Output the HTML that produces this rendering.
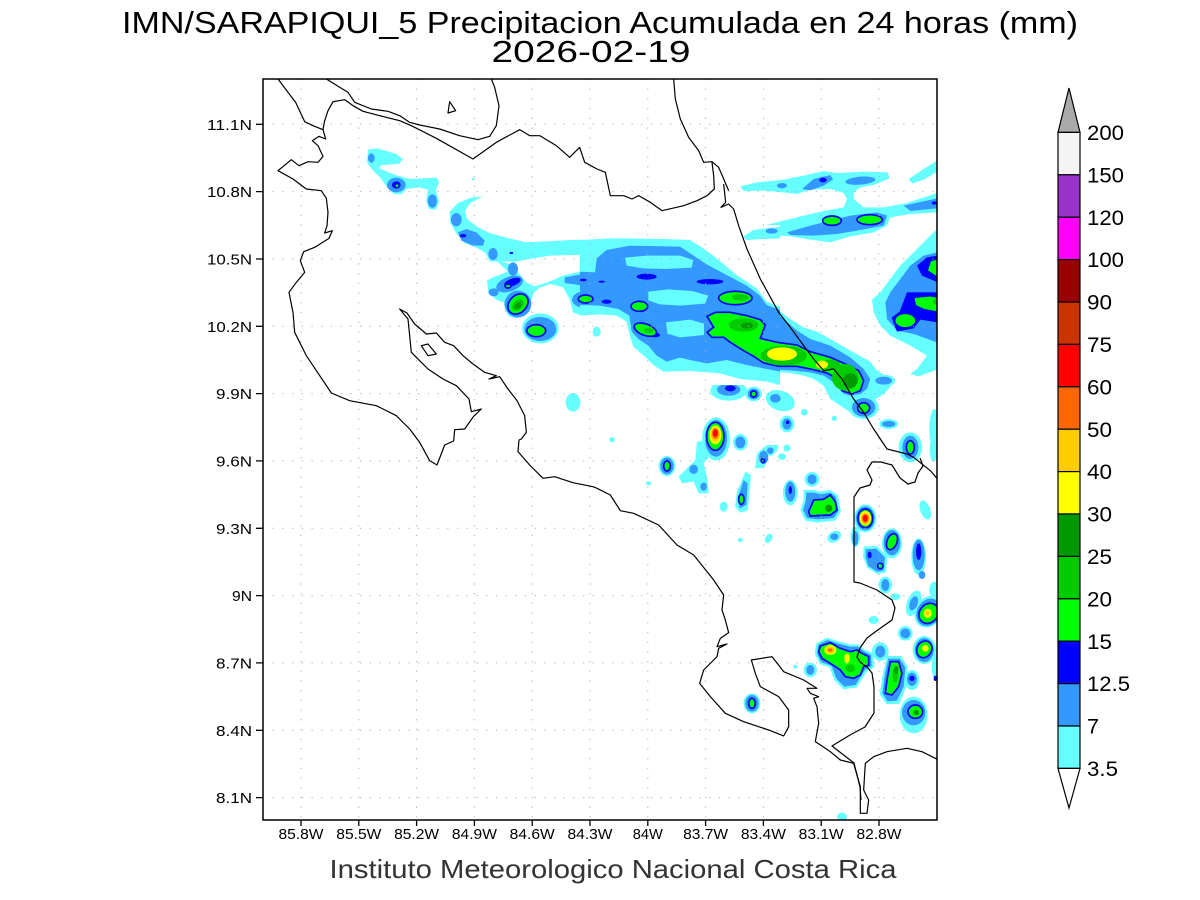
<!DOCTYPE html>
<html><head><meta charset="utf-8"><style>
html,body{margin:0;padding:0;background:#fff;}
svg{display:block;}
text{font-family:"Liberation Sans",sans-serif;}
</style></head><body>
<svg width="1200" height="900" viewBox="0 0 1200 900" xmlns="http://www.w3.org/2000/svg">
<rect width="1200" height="900" fill="#fff"/>
<defs>
<clipPath id="c"><rect x="263" y="79" width="674" height="741"/></clipPath>
<clipPath id="cA"><rect x="580" y="225" width="200" height="160"/></clipPath>
</defs>

<!-- titles -->
<text x="600" y="33" font-size="31" text-anchor="middle" textLength="956" lengthAdjust="spacingAndGlyphs">IMN/SARAPIQUI_5 Precipitacion Acumulada en 24 horas (mm)</text>
<text x="591" y="62" font-size="31" text-anchor="middle" textLength="199" lengthAdjust="spacingAndGlyphs">2026-02-19</text>
<text x="613" y="878" font-size="26" fill="#333" text-anchor="middle" textLength="567" lengthAdjust="spacingAndGlyphs">Instituto Meteorologico Nacional Costa Rica</text>

<g clip-path="url(#c)">
<g transform="translate(263,79) scale(0.33333)">
<!-- ===== CYAN ===== -->
<g fill="#66ffff">
 <path d="M315,212 L345,208 L400,225 L420,240 L408,255 L355,258 L348,268 L392,286 L440,300 L522,296 L528,312 L518,332 L528,368 L518,392 L498,390 L490,365 L495,332 L470,325 L430,330 L415,346 L393,345 L372,325 L352,296 L328,272 L312,250 Z"/>
 <path d="M660,352 L625,356 L585,372 L560,398 L562,432 L582,466 L605,492 L645,508 L668,522 L680,547 L712,548 L760,548 L800,540 L860,530 L940,528 L1020,530 L1020,485 L950,482 L850,487 L790,490 L730,476 L680,462 L645,445 L612,420 L606,396 L622,372 Z"/>
 <path d="M700,545 L745,556 L765,580 L790,610 L815,622 L860,608 L900,590 L950,578 L1030,575 L1030,710 L960,712 L930,700 L920,660 L900,625 L862,615 L828,627 L812,642 L803,670 L792,702 L762,718 L738,712 L726,692 L722,670 L700,662 L676,642 L672,604 L692,594 L735,578 Z"/>
 <ellipse cx="832" cy="748" rx="55" ry="45"/>
 <circle cx="630" cy="300" r="4"/>
 <ellipse cx="930" cy="970" rx="22" ry="28"/>
 <g transform="translate(1002,0)">
  <path d="M0,485 L60,482 L150,488 L230,492 L265,500 L262,522 L300,540 L370,538 L400,560 L445,590 L470,612 L500,660 L540,690 L580,720 L620,745 L665,760 L700,780 L760,815 L820,848 L840,875 L880,900 L880,925 L860,945 L835,962 L840,990 L820,1005 L790,1012 L760,1000 L730,980 L700,960 L680,920 L650,900 L620,890 L580,882 L520,878 L470,880 L420,888 L380,895 L350,890 L320,875 L270,870 L210,870 L180,860 L165,830 L130,800 L90,780 L40,770 L0,765 Z"/>
  <path d="M430,322 L480,310 L560,302 L620,290 L680,276 L720,282 L800,278 L872,280 L878,298 L830,318 L790,325 L770,340 L770,360 L800,385 L860,385 L930,372 L1020,342 L1020,400 L940,405 L880,415 L870,440 L830,460 L760,472 L700,490 L640,482 L580,472 L520,468 L460,472 L455,458 L500,440 L560,425 L620,410 L680,396 L740,385 L750,360 L740,342 L700,330 L640,332 L600,345 L560,340 L500,335 L440,336 Z"/>
  <path d="M935,300 L980,270 L1020,245 L1020,278 L985,300 L945,314 Z"/>
  <path d="M1020,450 L990,480 L950,520 L910,560 L880,600 L850,640 L825,662 L830,700 L850,740 L880,770 L940,800 L990,830 L960,870 L940,885 L965,892 L1020,872 Z"/>
  <ellipse cx="395" cy="935" rx="55" ry="30"/>
  <ellipse cx="470" cy="945" rx="25" ry="22"/>
  <ellipse cx="550" cy="965" rx="45" ry="30" transform="rotate(20 550 965)"/>
  <ellipse cx="570" cy="1035" rx="22" ry="25"/>
  <circle cx="622" cy="1000" r="10"/>
  <circle cx="712" cy="1018" r="8"/>
  <ellipse cx="800" cy="985" rx="45" ry="35"/>
  <ellipse cx="860" cy="905" rx="35" ry="18"/>
  <ellipse cx="875" cy="1035" rx="28" ry="15"/>
  <ellipse cx="940" cy="1105" rx="35" ry="45"/>
  <ellipse cx="1012" cy="1050" rx="15" ry="60"/>
  <ellipse cx="357" cy="1080" rx="42" ry="65"/>
  <ellipse cx="430" cy="1090" rx="22" ry="25"/>
  <circle cx="45" cy="1082" r="8"/>
  <ellipse cx="210" cy="1140" rx="10" ry="6"/>
  <circle cx="520" cy="1115" r="15"/>
  <circle cx="570" cy="1108" r="10"/>
 </g>
 <g transform="translate(1002,1083)">
  <ellipse cx="210" cy="78" rx="25" ry="30"/>
  <path d="M300,5 L340,0 L345,40 L320,70 L330,110 L335,160 L305,160 L290,125 L255,130 L245,110 L270,85 L295,60 Z"/>
  <ellipse cx="155" cy="130" rx="8" ry="6"/>
  <path d="M445,95 L462,105 L458,150 L452,212 L430,218 L414,200 L420,155 L435,120 Z"/>
  <path d="M480,40 L510,15 L545,15 L540,35 L512,48 L502,82 L474,86 Z"/>
  <ellipse cx="380" cy="200" rx="12" ry="15"/>
  <ellipse cx="555" cy="50" rx="12" ry="10"/>
  <ellipse cx="570" cy="22" rx="10" ry="8"/>
  <ellipse cx="580" cy="158" rx="22" ry="38"/>
  <circle cx="645" cy="118" r="22"/>
  <path d="M620,150 L650,150 L670,155 L700,150 L722,165 L732,215 L715,242 L660,248 L625,242 L610,210 L620,180 Z"/>
  <ellipse cx="805" cy="235" rx="33" ry="42"/>
  <ellipse cx="775" cy="290" rx="14" ry="30"/>
  <ellipse cx="712" cy="290" rx="22" ry="16" transform="rotate(-30 712 290)"/>
  <ellipse cx="515" cy="295" rx="10" ry="15" transform="rotate(30 515 295)"/>
  <ellipse cx="430" cy="300" rx="8" ry="6"/>
  <ellipse cx="885" cy="310" rx="30" ry="45"/>
  <path d="M800,320 L840,318 L872,350 L866,398 L840,402 L810,382 L798,350 Z"/>
  <ellipse cx="965" cy="350" rx="22" ry="55"/>
  <ellipse cx="985" cy="210" rx="15" ry="30" transform="rotate(-20 985 210)"/>
  <ellipse cx="865" cy="435" rx="20" ry="25"/>
  <ellipse cx="895" cy="470" rx="15" ry="10"/>
  <ellipse cx="950" cy="490" rx="20" ry="40" transform="rotate(20 950 490)"/>
  <ellipse cx="995" cy="515" rx="40" ry="50" transform="rotate(30 995 515)"/>
  <ellipse cx="1012" cy="450" rx="15" ry="25"/>
  <circle cx="925" cy="580" r="22"/>
  <ellipse cx="982" cy="630" rx="35" ry="42"/>
  <ellipse cx="850" cy="635" rx="25" ry="28"/>
  <ellipse cx="830" cy="540" rx="15" ry="12"/>
  <ellipse cx="1015" cy="680" rx="10" ry="40"/>
  <path d="M870,648 L912,648 L932,680 L927,742 L907,792 L868,792 L848,762 L858,700 Z"/>
  <ellipse cx="945" cy="720" rx="22" ry="30"/>
  <ellipse cx="950" cy="825" rx="42" ry="55"/>
  <path d="M658,610 L690,593 L722,603 L760,613 L782,613 L802,628 L828,640 L832,682 L812,692 L792,722 L780,742 L740,748 L713,722 L698,682 L668,672 L653,640 Z"/>
  <ellipse cx="640" cy="690" rx="20" ry="22"/>
  <ellipse cx="465" cy="790" rx="25" ry="30"/>
  <ellipse cx="735" cy="1130" rx="15" ry="12"/>
  <ellipse cx="1010" cy="30" rx="12" ry="35"/>
  <circle cx="595" cy="680" r="6"/>
 </g>
</g>

<!-- ===== MEDIUM BLUE ===== -->
<g fill="#3399ff">
 <ellipse cx="325" cy="237" rx="10" ry="14"/>
 <ellipse cx="400" cy="318" rx="28" ry="22"/>
 <ellipse cx="508" cy="366" rx="14" ry="20"/>
 <ellipse cx="580" cy="422" rx="16" ry="20"/>
 <path d="M585,460 L610,450 L640,460 L665,485 L660,500 L630,500 L595,485 Z"/>
 <ellipse cx="690" cy="525" rx="14" ry="18"/>
 <ellipse cx="750" cy="570" rx="15" ry="20"/>
 <ellipse cx="740" cy="615" rx="42" ry="22" transform="rotate(-20 740 615)"/>
 <ellipse cx="692" cy="640" rx="15" ry="12"/>
 <circle cx="765" cy="675" r="40"/>
 <ellipse cx="832" cy="750" rx="48" ry="36"/>
 <path d="M905,595 L960,585 L1030,585 L1030,622 L960,620 L905,612 Z"/>
 <ellipse cx="975" cy="662" rx="48" ry="27"/>
 <path d="M985,525 L1030,522 L1030,552 L995,550 Z"/>
 <g transform="translate(1002,0)">
  <path d="M0,500 L100,498 L200,508 L255,530 L290,570 L350,560 L420,598 L455,625 L480,660 L520,690 L560,720 L600,755 L640,780 L700,800 L760,835 L800,870 L820,900 L810,930 L790,945 L760,950 L740,945 L710,910 L680,890 L640,880 L590,875 L540,872 L480,868 L420,870 L380,860 L340,845 L290,855 L230,858 L180,845 L165,810 L140,790 L100,775 L60,760 L20,750 L0,745 Z"/>
  <ellipse cx="555" cy="320" rx="15" ry="8"/>
  <path d="M615,330 L650,300 L700,288 L708,302 L680,320 L640,334 Z"/>
  <ellipse cx="790" cy="305" rx="45" ry="12" transform="rotate(-5 790 305)"/>
  <ellipse cx="520" cy="452" rx="15" ry="8"/>
  <path d="M570,460 L640,440 L700,425 L760,410 L840,400 L870,410 L860,440 L780,455 L720,465 L650,470 L580,468 Z"/>
  <path d="M920,380 L1020,358 L1020,388 L940,396 Z"/>
  <path d="M1020,520 L980,530 L940,560 L910,600 L880,640 L865,670 L870,720 L900,755 L950,765 L1020,790 Z"/>
  <ellipse cx="395" cy="932" rx="35" ry="18"/>
  <ellipse cx="470" cy="945" rx="18" ry="16"/>
  <ellipse cx="535" cy="958" rx="16" ry="13"/>
  <ellipse cx="570" cy="1035" rx="14" ry="17"/>
  <ellipse cx="800" cy="985" rx="35" ry="28"/>
  <ellipse cx="860" cy="905" rx="25" ry="12"/>
  <ellipse cx="875" cy="1035" rx="20" ry="9"/>
  <ellipse cx="940" cy="1105" rx="24" ry="35"/>
  <ellipse cx="357" cy="1078" rx="33" ry="55"/>
  <ellipse cx="430" cy="1090" rx="15" ry="18"/>
  <circle cx="520" cy="1115" r="10"/>
 </g>
 <g transform="translate(1002,1083)">
  <ellipse cx="210" cy="78" rx="20" ry="25"/>
  <ellipse cx="290" cy="88" rx="13" ry="14"/>
  <ellipse cx="320" cy="140" rx="10" ry="12"/>
  <path d="M440,120 L452,130 L448,195 L428,205 L422,175 Z"/>
  <ellipse cx="500" cy="52" rx="14" ry="20"/>
  <ellipse cx="580" cy="155" rx="15" ry="30"/>
  <ellipse cx="645" cy="118" rx="14" ry="15"/>
  <path d="M628,158 L652,158 L672,163 L700,158 L716,170 L724,214 L710,234 L662,238 L630,234 L618,210 L626,184 Z"/>
  <ellipse cx="805" cy="235" rx="28" ry="36"/>
  <ellipse cx="775" cy="295" rx="9" ry="22"/>
  <ellipse cx="712" cy="290" rx="12" ry="10"/>
  <ellipse cx="885" cy="308" rx="25" ry="38"/>
  <path d="M806,328 L838,326 L864,352 L860,392 L840,395 L814,378 L806,352 Z"/>
  <ellipse cx="965" cy="345" rx="18" ry="46"/>
  <ellipse cx="975" cy="405" rx="10" ry="12"/>
  <ellipse cx="865" cy="435" rx="12" ry="18"/>
  <ellipse cx="950" cy="490" rx="12" ry="22" transform="rotate(20 950 490)"/>
  <ellipse cx="995" cy="517" rx="35" ry="43" transform="rotate(30 995 517)"/>
  <circle cx="925" cy="580" r="15"/>
  <ellipse cx="982" cy="630" rx="28" ry="36"/>
  <ellipse cx="850" cy="635" rx="15" ry="18"/>
  <path d="M874,656 L908,656 L925,682 L920,740 L900,782 L872,784 L856,760 L864,702 Z"/>
  <ellipse cx="945" cy="718" rx="15" ry="20"/>
  <ellipse cx="950" cy="818" rx="35" ry="38"/>
  <path d="M664,614 L692,600 L722,610 L760,620 L782,620 L800,633 L822,645 L824,678 L806,687 L787,716 L776,735 L742,740 L718,716 L704,678 L672,666 L660,640 Z"/>
  <ellipse cx="640" cy="690" rx="12" ry="15"/>
  <ellipse cx="465" cy="790" rx="20" ry="25"/>
 </g>
</g>

<!-- ===== DARK BLUE ===== -->
<g fill="#0000ff">
 <ellipse cx="400" cy="318" rx="13" ry="11"/>
 <ellipse cx="600" cy="470" rx="10" ry="5"/>
 <ellipse cx="748" cy="610" rx="26" ry="11" transform="rotate(-20 748 610)"/>
 <ellipse cx="960" cy="605" rx="10" ry="4"/>
 <ellipse cx="745" cy="522" rx="6" ry="3"/>
 <g transform="translate(1002,0)">
  <ellipse cx="678" cy="303" rx="11" ry="7"/>
  <ellipse cx="1012" cy="372" rx="8" ry="5"/>
  <path d="M1022,530 L990,535 L960,560 L975,590 L1022,610 Z"/>
  <path d="M930,640 L1022,640 L1022,730 L970,722 L950,748 L900,758 L884,716 L908,698 Z"/>
  <ellipse cx="400" cy="928" rx="16" ry="9"/>
  <circle cx="572" cy="1030" r="5"/>
 </g>
 <g transform="translate(1002,1083)">
  <ellipse cx="580" cy="150" rx="5" ry="12"/>
  <ellipse cx="818" cy="345" rx="6" ry="10"/>
  <ellipse cx="965" cy="335" rx="8" ry="25"/>
  <circle cx="945" cy="715" r="8"/>
  <ellipse cx="1015" cy="715" rx="5" ry="8"/>
 </g>
</g>
</g>

<!-- ===== Detailed band section (580..780 x 225..385) ===== -->
<rect x="580" y="225" width="200" height="160" fill="#fff"/>
<g clip-path="url(#cA)">
<g transform="translate(580,225) scale(0.33333)">
 <g fill="#66ffff">
  <path d="M0,45 L100,40 L250,42 L330,45 L370,70 L410,100 L470,150 L530,190 L560,230 L600,245 L600,480 L560,470 L480,462 L420,445 L330,438 L250,440 L220,420 L195,395 L160,365 L150,335 L140,290 L110,272 L60,268 L0,272 Z"/>
  <path d="M490,35 L520,15 L600,5 L600,40 L550,42 L500,45 Z"/>
  <ellipse cx="50" cy="320" rx="12" ry="15"/>
 </g>
 <g fill="#3399ff">
  <path d="M0,140 L45,142 L50,100 L80,75 L150,62 L300,65 L335,88 L380,118 L440,150 L500,182 L540,212 L560,240 L600,255 L600,440 L560,432 L500,420 L440,405 L380,415 L330,405 L300,398 L260,410 L230,392 L205,362 L175,342 L155,320 L148,272 L115,252 L60,242 L0,240 Z"/>
  <ellipse cx="575" cy="18" rx="18" ry="8"/>
 </g>
 <g fill="#66ffff">
  <path d="M135,98 L200,92 L300,92 L340,105 L335,128 L260,132 L190,130 L140,122 Z"/>
  <path d="M205,200 L265,193 L335,198 L385,212 L375,236 L300,242 L240,238 L205,226 Z"/>
  <path d="M258,292 L330,284 L372,296 L372,330 L300,337 L262,326 Z"/>
 </g>
 <g fill="#0000ff">
  <ellipse cx="200" cy="155" rx="30" ry="9"/>
  <ellipse cx="390" cy="170" rx="40" ry="8"/>
  <ellipse cx="10" cy="165" rx="10" ry="4"/>
  <ellipse cx="65" cy="170" rx="10" ry="3"/>
  <ellipse cx="80" cy="230" rx="15" ry="6"/>
  <ellipse cx="225" cy="330" rx="15" ry="7"/>
  <ellipse cx="410" cy="330" rx="22" ry="8"/>
 </g>
</g>
</g>

<g transform="translate(263,79) scale(0.33333)">
<!-- ===== GREEN (with blue ring) ===== -->
<g fill="#00ff00" stroke="#0000ff" stroke-width="5">
 <ellipse cx="735" cy="621" rx="9" ry="6"/>
 <ellipse cx="765" cy="675" rx="26" ry="34" transform="rotate(45 765 675)"/>
 <ellipse cx="820" cy="755" rx="28" ry="18"/>
 <ellipse cx="968" cy="660" rx="22" ry="12"/>
 <g transform="translate(1002,0)">
  <ellipse cx="415" cy="657" rx="50" ry="20"/>
  <ellipse cx="127" cy="682" rx="25" ry="15"/>
  <ellipse cx="145" cy="752" rx="35" ry="17" transform="rotate(20 145 752)"/>
  <path d="M330,712 L355,700 L400,700 L450,710 L490,722 L505,738 L490,778 L540,790 L600,798 L640,818 L700,835 L745,855 L785,875 L800,905 L790,935 L765,945 L735,935 L715,895 L690,882 L650,872 L600,862 L545,862 L500,852 L470,832 L440,815 L400,790 L380,775 L345,775 L330,760 L350,745 Z"/>
  <ellipse cx="705" cy="425" rx="28" ry="14"/>
  <ellipse cx="818" cy="422" rx="38" ry="15"/>
  <path d="M1025,538 L1000,545 L990,575 L1025,598 Z"/>
  <path d="M950,655 L1000,650 L1025,655 L1025,700 L980,692 L955,680 Z"/>
  <ellipse cx="925" cy="725" rx="32" ry="22"/>
  <circle cx="470" cy="945" r="9"/>
  <ellipse cx="800" cy="987" rx="18" ry="16"/>
  <ellipse cx="940" cy="1105" rx="12" ry="20"/>
  <ellipse cx="355" cy="1072" rx="26" ry="42"/>
 </g>
 <g transform="translate(1002,1083)">
  <ellipse cx="210" cy="78" rx="10" ry="15"/>
  <ellipse cx="433" cy="178" rx="8" ry="15"/>
  <ellipse cx="498" cy="62" rx="5" ry="6"/>
  <path d="M635,215 L650,180 L680,178 L700,165 L715,185 L720,210 L700,225 L640,228 Z"/>
  <ellipse cx="805" cy="235" rx="22" ry="28"/>
  <ellipse cx="885" cy="305" rx="15" ry="25" transform="rotate(20 885 305)"/>
  <circle cx="850" cy="378" r="8"/>
  <ellipse cx="995" cy="520" rx="27" ry="32" transform="rotate(40 995 520)"/>
  <ellipse cx="982" cy="628" rx="22" ry="26" transform="rotate(30 982 628)"/>
  <path d="M880,665 L905,665 L915,700 L905,740 L885,765 L865,760 L870,720 Z"/>
  <ellipse cx="955" cy="815" rx="22" ry="20"/>
  <path d="M670,618 L700,608 L730,625 L760,635 L780,630 L795,640 L815,650 L815,675 L800,680 L790,705 L770,715 L745,710 L730,690 L700,670 L675,655 L665,635 Z"/>
  <ellipse cx="465" cy="790" rx="10" ry="15"/>
 </g>
</g>
<circle cx="402" cy="320" r="4" fill="#00ff00"/>

<!-- mid green -->
<g fill="#00cc00">
 <ellipse cx="765" cy="678" rx="14" ry="20" transform="rotate(45 765 678)"/>
 <g transform="translate(1002,0)">
  <ellipse cx="560" cy="830" rx="70" ry="30"/>
  <ellipse cx="745" cy="895" rx="40" ry="40"/>
  <ellipse cx="440" cy="738" rx="45" ry="20"/>
  <ellipse cx="700" cy="858" rx="30" ry="16"/>
  <ellipse cx="430" cy="655" rx="25" ry="10"/>
  <ellipse cx="155" cy="755" rx="15" ry="8"/>
  <ellipse cx="1015" cy="668" rx="8" ry="8"/>
 </g>
 <g transform="translate(1002,1083)">
  <ellipse cx="760" cy="685" rx="14" ry="12"/>
  <ellipse cx="895" cy="705" rx="9" ry="22"/>
 </g>
</g>
<!-- dark green -->
<g fill="#009900">
 <ellipse cx="765" cy="680" rx="8" ry="12" transform="rotate(45 765 680)"/>
 <g transform="translate(1002,0)">
  <circle cx="760" cy="905" r="22"/>
  <ellipse cx="450" cy="740" rx="18" ry="9"/>
 </g>
 <g transform="translate(1002,1083)">
  <circle cx="695" cy="205" r="11"/>
  <ellipse cx="898" cy="690" rx="6" ry="12"/>
  <circle cx="958" cy="818" r="8"/>
 </g>
</g>
<!-- yellow / orange / red -->
<g transform="translate(1002,0)">
 <ellipse cx="555" cy="825" rx="45" ry="20" fill="#ffff00"/>
 <ellipse cx="675" cy="857" rx="18" ry="12" fill="#ffff00"/>
 <ellipse cx="355" cy="1068" rx="18" ry="28" fill="#ffff00"/>
 <ellipse cx="355" cy="1066" rx="14" ry="22" fill="#ffcc00"/>
 <ellipse cx="355" cy="1064" rx="10" ry="16" fill="#ff6600"/>
 <ellipse cx="355" cy="1062" rx="7" ry="11" fill="#ff0000"/>
</g>
<g transform="translate(1002,1083)">
 <ellipse cx="805" cy="235" rx="17" ry="22" fill="#ffff00"/>
 <ellipse cx="805" cy="235" rx="13" ry="17" fill="#ffcc00"/>
 <ellipse cx="805" cy="235" rx="10" ry="13" fill="#ff6600"/>
 <ellipse cx="805" cy="235" rx="7" ry="10" fill="#ff0000"/>
 <ellipse cx="992" cy="520" rx="12" ry="14" fill="#ffff00"/>
 <ellipse cx="992" cy="520" rx="6" ry="7" fill="#ffcc00"/>
 <circle cx="985" cy="625" r="10" fill="#ffff00"/>
 <ellipse cx="700" cy="630" rx="18" ry="15" fill="#ffff00"/>
 <ellipse cx="700" cy="630" rx="13" ry="10" fill="#ffcc00"/>
 <ellipse cx="700" cy="630" rx="7" ry="5" fill="#ff6600"/>
 <ellipse cx="750" cy="655" rx="8" ry="15" fill="#ffff00"/>
</g>
</g>

<!-- grid (drawn over colours) -->
<g stroke="#aaa" stroke-width="1" stroke-dasharray="1.2 8.5" fill="none">
<path d="M301,79V820M358.8,79V820M416.6,79V820M474.4,79V820M532.2,79V820M590,79V820M647.8,79V820M705.6,79V820M763.4,79V820M821.2,79V820M879,79V820"/>
<path d="M263,124.3H937M263,191.6H937M263,259H937M263,326.3H937M263,393.6H937M263,460.9H937M263,528.3H937M263,595.6H937M263,662.9H937M263,730.3H937M263,797.6H937"/>
</g>

<!-- ===== COASTLINES ===== -->
<g transform="translate(263,79) scale(0.33333)">
<g fill="none" stroke="#000" stroke-width="1.2" stroke-linejoin="round">
 <path vector-effect="non-scaling-stroke" d="M45,0 L75,40 L98,70 L112,100 L125,128 L150,140 L180,152 L188,180 L168,172 L148,185 L165,200 L180,232 L165,250 L135,248 L108,260 L85,242 L45,275 L90,300 L130,330 L175,335 L190,358 L195,400 L192,440 L185,462 L208,455 L198,478 L155,505 L122,518 L112,545 L125,580 L100,610 L78,640 L90,700 L95,760 L130,830 L205,942 L260,965 L340,980 L400,1010 L440,1050 L470,1090 L500,1145 L522,1158 L545,1098 L572,1086 L575,1052 L605,1050 L632,1012 L655,990 L625,998 L618,960 L580,920 L540,900 L495,870 L470,845 L445,820 L435,720 L410,690 L432,702 L455,735 L490,765 L520,762 L545,790 L572,800 L600,830 L630,855 L665,880 L700,890 L678,900 L710,893 L735,930 L762,965 L785,1010 L790,1060 L775,1080 L768,1083 L765,1118 L800,1158 L840,1198 L875,1193 L930,1211 L990,1223 L1002,1228"/>
 <path vector-effect="non-scaling-stroke" d="M190,0 L255,40 L275,70 L325,90 L375,97 L410,110 L440,130 L470,138 L530,150 L590,170 L645,182 L680,172 L700,140 L708,80 L695,25 L685,0"/>
 <path vector-effect="non-scaling-stroke" d="M180,152 L185,125 L195,95 L210,68 L245,62 L270,80 L300,97 L350,110 L410,125 L445,140 L520,178 L630,240 L700,190 L770,152 L800,170 L830,170 L880,200 L920,235 L950,205 L965,250 L1002,270"/>
 <path vector-effect="non-scaling-stroke" d="M475,800 L495,795 L520,825 L495,830 Z"/>
 <path vector-effect="non-scaling-stroke" d="M560,68 L578,95 L555,102 Z"/>
 <g transform="translate(1002,0)">
  <path vector-effect="non-scaling-stroke" d="M0,270 L25,280 L40,350 L80,350 L105,360 L125,350 L160,370 L195,395 L260,380 L300,365 L330,350 L352,330 L350,290 L345,250"/>
  <path vector-effect="non-scaling-stroke" d="M230,0 L235,60 L250,120 L275,175 L305,215 L320,250 L345,248 L365,265 L378,295 L395,335"/>
  <path vector-effect="non-scaling-stroke" d="M380,315 L386,370 L372,385 L395,375 L410,390 L425,440 L450,510 L490,600 L545,700 L580,745 L620,800 L650,840 L680,875 L710,870 L735,900 L770,960 L800,1000 L830,1050 L850,1080 L870,1110 L930,1125 L950,1135 L1000,1175 L1020,1198"/>
 </g>
 <g transform="translate(1002,1083)">
  <path vector-effect="non-scaling-stroke" d="M0,145 L40,165 L70,212 L110,220 L185,255 L240,315 L290,345 L330,395 L350,420 L380,465 L375,510 L385,540 L395,578 L370,595 L360,620 L390,612 L365,625 L360,650 L350,660 L320,690 L308,730 L340,770 L385,820 L440,845 L515,870 L560,888 L575,860 L575,810 L545,770 L490,740 L475,700 L463,660 L525,650 L560,695 L620,720 L660,745 L630,745 L640,760 L665,770 L650,775 L660,800 L665,850 L655,905 L700,935 L730,960 L770,970 L790,1040 L790,1120 L810,1120 L815,1080 L800,1050 L805,970 L830,950 L870,935 L930,925 L975,935 L1025,960"/>
 </g>
</g>
</g>
<path fill="none" stroke="#000" stroke-width="1.2" stroke-linejoin="round" d="M920,458 L923,466 L918,473 L915,482 L908,484 L900,478 L892,465 L881,462 L872,462 L867,470 L872,480 L870,485 L860,488 L854,497 L854,582 L860,583 L877,590 L892,600 L895,608 L892,620 L875,632 L867,638 L860,648 L857,657 L860,662 L867,667 L872,673 L874,687 L874,713 L865,727 L850,735 L832,746 L854,763 L860,787 L861,800"/>
</g>

<!-- frame -->
<rect x="263" y="79" width="674" height="741" fill="none" stroke="#000" stroke-width="1.5"/>

<!-- ticks -->
<g stroke="#000" stroke-width="1.3">
<path d="M256,124.3H263M256,191.6H263M256,259H263M256,326.3H263M256,393.6H263M256,460.9H263M256,528.3H263M256,595.6H263M256,662.9H263M256,730.3H263M256,797.6H263"/>
<path d="M301,820V826M358.8,820V826M416.6,820V826M474.4,820V826M532.2,820V826M590,820V826M647.8,820V826M705.6,820V826M763.4,820V826M821.2,820V826M879,820V826"/>
</g>
<g font-size="15" text-anchor="end">
<text x="252" y="130" textLength="45" lengthAdjust="spacingAndGlyphs">11.1N</text>
<text x="252" y="197" textLength="45" lengthAdjust="spacingAndGlyphs">10.8N</text>
<text x="252" y="264.5" textLength="45" lengthAdjust="spacingAndGlyphs">10.5N</text>
<text x="252" y="332" textLength="45" lengthAdjust="spacingAndGlyphs">10.2N</text>
<text x="252" y="399" textLength="36" lengthAdjust="spacingAndGlyphs">9.9N</text>
<text x="252" y="466.5" textLength="36" lengthAdjust="spacingAndGlyphs">9.6N</text>
<text x="252" y="534" textLength="36" lengthAdjust="spacingAndGlyphs">9.3N</text>
<text x="252" y="601" textLength="20" lengthAdjust="spacingAndGlyphs">9N</text>
<text x="252" y="668.5" textLength="36" lengthAdjust="spacingAndGlyphs">8.7N</text>
<text x="252" y="736" textLength="36" lengthAdjust="spacingAndGlyphs">8.4N</text>
<text x="252" y="803" textLength="36" lengthAdjust="spacingAndGlyphs">8.1N</text>
</g>
<g font-size="15" text-anchor="middle">
<text x="301" y="839" textLength="45" lengthAdjust="spacingAndGlyphs">85.8W</text>
<text x="358.8" y="839" textLength="45" lengthAdjust="spacingAndGlyphs">85.5W</text>
<text x="416.6" y="839" textLength="45" lengthAdjust="spacingAndGlyphs">85.2W</text>
<text x="474.4" y="839" textLength="45" lengthAdjust="spacingAndGlyphs">84.9W</text>
<text x="532.2" y="839" textLength="45" lengthAdjust="spacingAndGlyphs">84.6W</text>
<text x="590" y="839" textLength="45" lengthAdjust="spacingAndGlyphs">84.3W</text>
<text x="647.8" y="839" textLength="30" lengthAdjust="spacingAndGlyphs">84W</text>
<text x="705.6" y="839" textLength="45" lengthAdjust="spacingAndGlyphs">83.7W</text>
<text x="763.4" y="839" textLength="45" lengthAdjust="spacingAndGlyphs">83.4W</text>
<text x="821.2" y="839" textLength="45" lengthAdjust="spacingAndGlyphs">83.1W</text>
<text x="879" y="839" textLength="45" lengthAdjust="spacingAndGlyphs">82.8W</text>
</g>

<!-- colorbar -->
<g stroke="#000" stroke-width="1.2">
<polygon points="1058,132.4 1080,132.4 1069,88" fill="#aaaaaa"/>
<rect x="1058" y="132.4" width="22" height="42.4" fill="#f4f4f4"/>
<rect x="1058" y="174.8" width="22" height="42.4" fill="#9933cc"/>
<rect x="1058" y="217.2" width="22" height="42.4" fill="#ff00ff"/>
<rect x="1058" y="259.6" width="22" height="42.4" fill="#990000"/>
<rect x="1058" y="302" width="22" height="42.4" fill="#cc3300"/>
<rect x="1058" y="344.4" width="22" height="42.4" fill="#ff0000"/>
<rect x="1058" y="386.8" width="22" height="42.4" fill="#ff6600"/>
<rect x="1058" y="429.2" width="22" height="42.4" fill="#ffcc00"/>
<rect x="1058" y="471.6" width="22" height="42.4" fill="#ffff00"/>
<rect x="1058" y="514" width="22" height="42.4" fill="#009900"/>
<rect x="1058" y="556.4" width="22" height="42.4" fill="#00cc00"/>
<rect x="1058" y="598.8" width="22" height="42.4" fill="#00ff00"/>
<rect x="1058" y="641.2" width="22" height="42.4" fill="#0000ff"/>
<rect x="1058" y="683.6" width="22" height="42.4" fill="#3399ff"/>
<rect x="1058" y="726" width="22" height="42.4" fill="#66ffff"/>
<polygon points="1058,768.4 1080,768.4 1069,808" fill="#ffffff"/>
</g>
<g font-size="21">
<text x="1087" y="140" textLength="37" lengthAdjust="spacingAndGlyphs">200</text>
<text x="1087" y="182.4" textLength="37" lengthAdjust="spacingAndGlyphs">150</text>
<text x="1087" y="224.8" textLength="37" lengthAdjust="spacingAndGlyphs">120</text>
<text x="1087" y="267.2" textLength="37" lengthAdjust="spacingAndGlyphs">100</text>
<text x="1087" y="309.6" textLength="25" lengthAdjust="spacingAndGlyphs">90</text>
<text x="1087" y="352" textLength="25" lengthAdjust="spacingAndGlyphs">75</text>
<text x="1087" y="394.4" textLength="25" lengthAdjust="spacingAndGlyphs">60</text>
<text x="1087" y="436.8" textLength="25" lengthAdjust="spacingAndGlyphs">50</text>
<text x="1087" y="479.2" textLength="25" lengthAdjust="spacingAndGlyphs">40</text>
<text x="1087" y="521.6" textLength="25" lengthAdjust="spacingAndGlyphs">30</text>
<text x="1087" y="564" textLength="25" lengthAdjust="spacingAndGlyphs">25</text>
<text x="1087" y="606.4" textLength="25" lengthAdjust="spacingAndGlyphs">20</text>
<text x="1087" y="648.8" textLength="25" lengthAdjust="spacingAndGlyphs">15</text>
<text x="1087" y="691.2" textLength="43" lengthAdjust="spacingAndGlyphs">12.5</text>
<text x="1087" y="733.6" textLength="12" lengthAdjust="spacingAndGlyphs">7</text>
<text x="1087" y="776" textLength="31" lengthAdjust="spacingAndGlyphs">3.5</text>
</g>
</svg>
</body></html>
